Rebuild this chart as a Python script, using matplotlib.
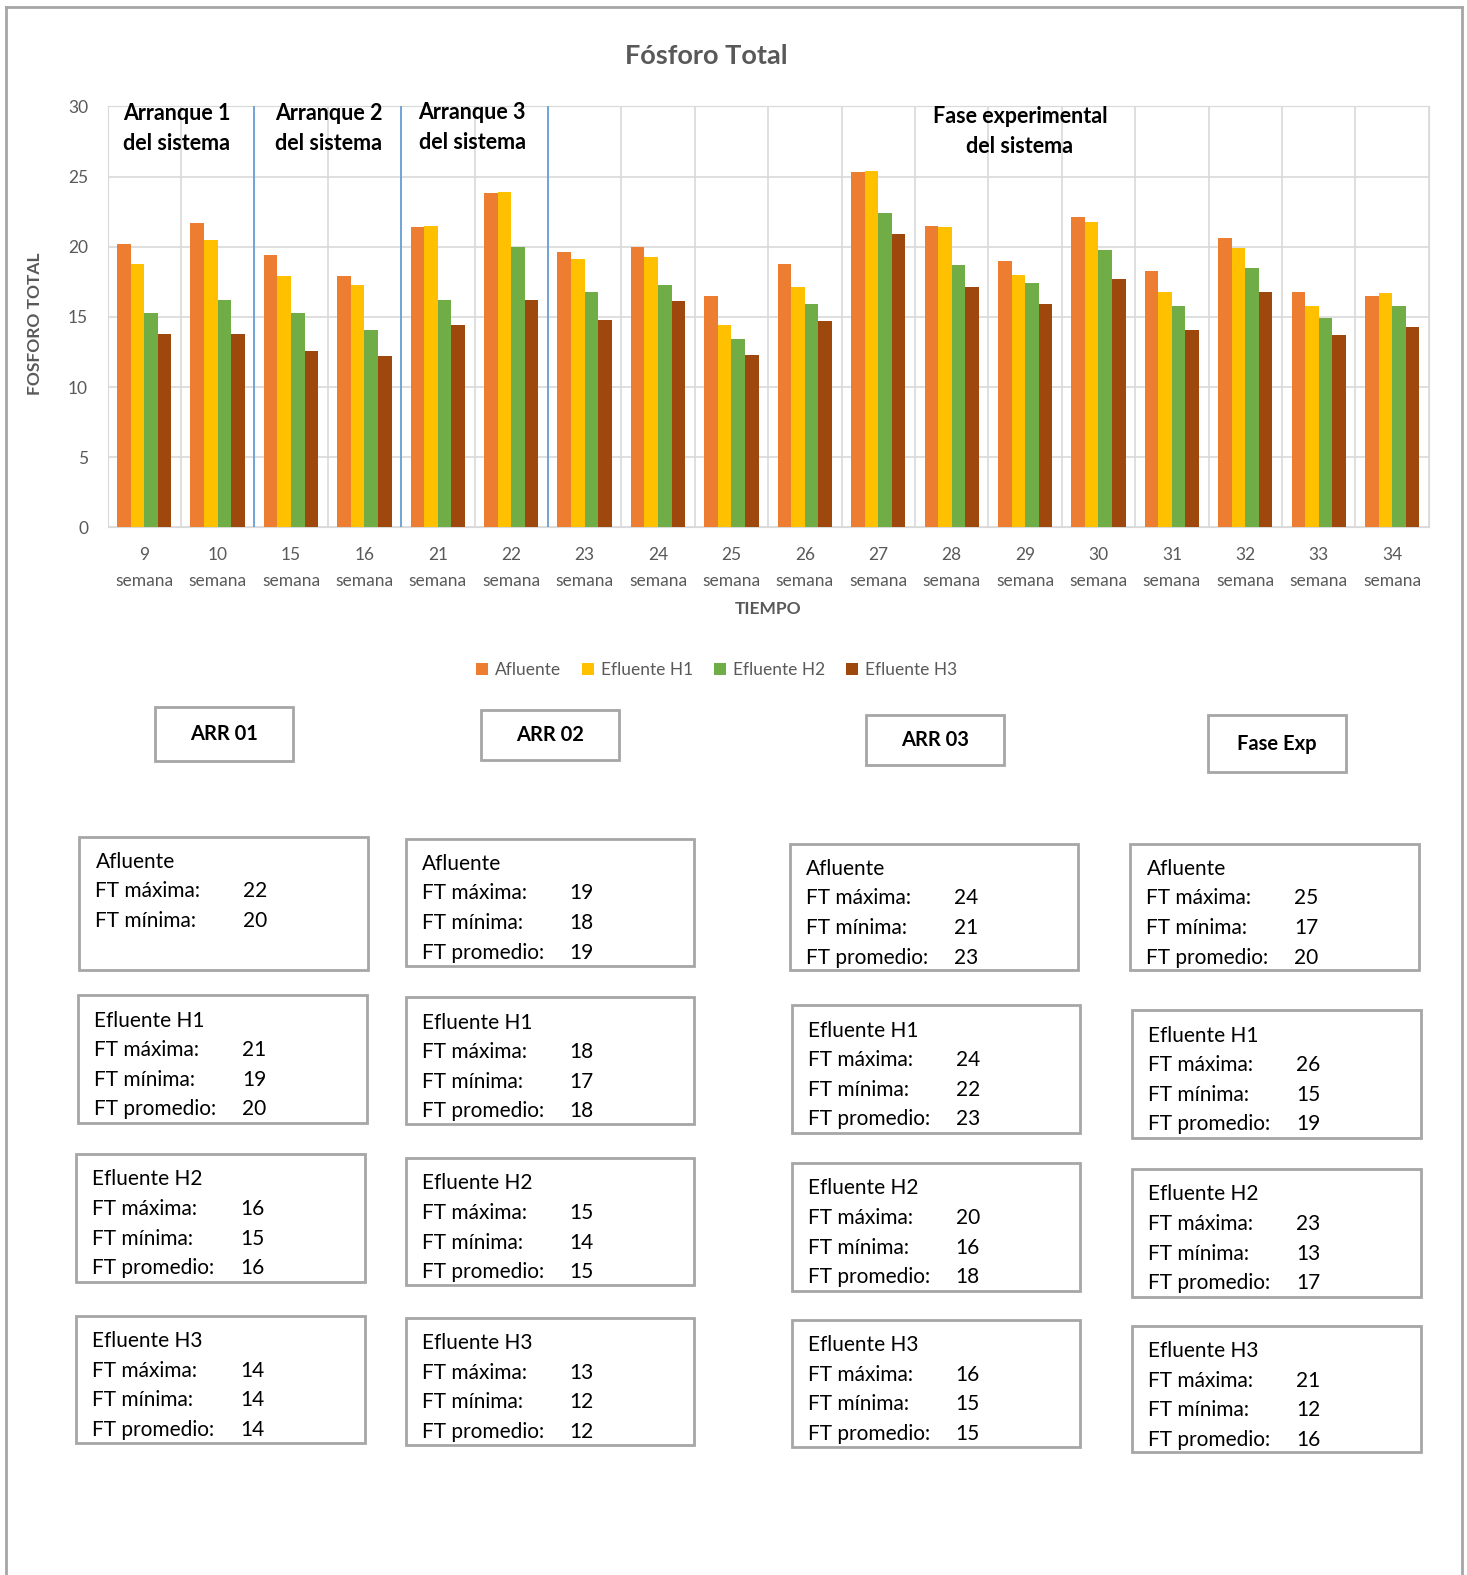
import matplotlib.pyplot as plt
from matplotlib.patches import Rectangle, Patch
from matplotlib.lines import Line2D

plt.rcParams['font.family'] = ['Lato', 'DejaVu Sans']

# --- datos ---
semanas = ['9', '10', '15', '16', '21', '22', '23', '24', '25', '26',
           '27', '28', '29', '30', '31', '32', '33', '34']
afluente = [20.2, 21.7, 19.4, 17.9, 21.4, 23.8, 19.6, 20.0, 16.5, 18.8,
            25.3, 21.5, 19.0, 22.1, 18.3, 20.6, 16.8, 16.5]
efluente_h1 = [18.8, 20.5, 17.9, 17.3, 21.5, 23.9, 19.1, 19.3, 14.4, 17.1,
               25.4, 21.4, 18.0, 21.8, 16.8, 19.9, 15.8, 16.7]
efluente_h2 = [15.3, 16.2, 15.3, 14.1, 16.2, 20.0, 16.8, 17.3, 13.4, 15.9,
               22.4, 18.7, 17.4, 19.8, 15.8, 18.5, 14.9, 15.8]
efluente_h3 = [13.8, 13.8, 12.6, 12.2, 14.4, 16.2, 14.8, 16.1, 12.3, 14.7,
               20.9, 17.1, 15.9, 17.7, 14.1, 16.8, 13.7, 14.3]
series_names = ['Afluente', 'Efluente H1', 'Efluente H2', 'Efluente H3']
colores = ['#ED7D31', '#FFC000', '#70AD47', '#9E480E']

etapas = ['Arranque 1\ndel sistema', 'Arranque 2\ndel sistema',
          'Arranque 3\ndel sistema', 'Fase experimental\ndel sistema']
cortes_etapa = [2, 4, 6]

fases = ['ARR 01', 'ARR 02', 'ARR 03', 'Fase Exp']
ft_maxima = [[22, 21, 16, 14], [19, 18, 15, 13], [24, 24, 20, 16], [25, 26, 23, 21]]
ft_minima = [[20, 19, 15, 14], [18, 17, 14, 12], [21, 22, 16, 15], [17, 15, 13, 12]]
ft_promedio = [[None, 20, 16, 14], [19, 18, 15, 12], [23, 23, 18, 15], [20, 19, 17, 16]]

W, H = 1467, 1575
# layout en pixeles de una maqueta de 1460x1568
SX, SY = 1467 / 1460, 1575 / 1568
fig = plt.figure(figsize=(W / 100, H / 100), dpi=100)


def fx(x):
    return x * SX / W


def fy(y):
    return 1 - y * SY / H


# marco exterior
for xs, ys in [([6, 6], [H, 7]), ([6, 1455], [7, 7]), ([1455, 1455], [7, H])]:
    fig.add_artist(Line2D([fx(v) for v in xs], [fy(v) for v in ys],
                          color='#a6a6a6', lw=2))

# --- grafico de barras ---
ax = fig.add_axes([fx(107), fy(525), fx(1422) - fx(107), fy(106) - fy(525)])
n = len(semanas)
ancho = 0.185
valores = [afluente, efluente_h1, efluente_h2, efluente_h3]
for k, (vals, c) in enumerate(zip(valores, colores)):
    xs = [i + 0.5 + (k - 1.5) * ancho for i in range(n)]
    ax.bar(xs, vals, width=ancho, color=c, zorder=3)

ax.set_xlim(0, n)
ax.set_ylim(0, 30)
ax.set_yticks(range(0, 31, 5))
ax.set_xticks([i + 0.5 for i in range(n)])
ax.set_xticklabels([s + '\nsemana' for s in semanas], linespacing=1.75)
ax.set_xticks(range(n + 1), minor=True)
ax.tick_params(axis='both', which='both', length=0, colors='#595959', labelsize=12.5)
ax.tick_params(axis='y', pad=14)
ax.tick_params(axis='x', pad=14)
ax.grid(axis='y', color='#d9d9d9', lw=1.2, zorder=0)
ax.grid(axis='x', which='minor', color='#d9d9d9', lw=1.2, zorder=0)
for s in ax.spines.values():
    s.set_color('#d9d9d9')
for c in cortes_etapa:
    ax.axvline(c, color='#5B9BD5', lw=1.2, zorder=4)

# etiquetas de etapa dentro del grafico
pos_etapa = [(176, 128), (327, 128), (470, 127), (1015, 131)]
for txt, (x, y) in zip(etapas, pos_etapa):
    fig.text(fx(x), fy(y), txt, ha='center', va='center', fontsize=15.5,
             fontweight='bold', color='black', linespacing=1.55)

fig.text(fx(703), fy(56), 'Fósforo Total', ha='center', va='center',
         fontsize=19.5, fontweight='bold', color='#595959')
fig.text(fx(35), fy(322), 'FOSFORO TOTAL', ha='center', va='center',
         rotation=90, fontsize=12.5, fontweight='bold', color='#595959')
fig.text(fx(764), fy(606), 'TIEMPO', ha='center', va='center',
         fontsize=12.5, fontweight='bold', color='#595959')

handles = [Patch(facecolor=c, label=s) for s, c in zip(series_names, colores)]
fig.legend(handles=handles, loc='center', bbox_to_anchor=(fx(713), fy(667)),
           ncol=4, frameon=False, fontsize=12.5, handlelength=0.7,
           handleheight=0.7, handletextpad=0.4, columnspacing=1.2,
           labelcolor='#595959')

# --- cuadros de resumen ---
borde = '#a6a6a6'
cabeceras = [(154, 704, 138, 54), (479, 707, 137, 50),
             (862, 712, 137, 50), (1202, 712, 138, 57)]
for fase, (x, y, w, h) in zip(fases, cabeceras):
    fig.add_artist(Rectangle((fx(x), fy(y + h)), fx(x + w) - fx(x), fy(y) - fy(y + h),
                             transform=fig.transFigure, fill=False,
                             edgecolor=borde, lw=2))
    fig.text(fx(x + w / 2), fy(y + h / 2), fase, ha='center', va='center',
             fontsize=14.5, fontweight='bold', color='black')

cuadros = [
    [(79, 833, 133), (78, 991, 127), (76, 1149, 127), (76, 1310, 127)],
    [(404, 835, 127), (404, 993, 126), (404, 1153, 126), (404, 1312, 127)],
    [(786, 840, 126), (788, 1001, 127), (788, 1158, 127), (788, 1314, 127)],
    [(1125, 840, 126), (1127, 1006, 127), (1127, 1164, 127), (1127, 1320, 126)],
]
for j in range(len(fases)):
    for k, nombre in enumerate(series_names):
        x, y, h = cuadros[j][k]
        w = 287
        fig.add_artist(Rectangle((fx(x), fy(y + h)), fx(x + w) - fx(x), fy(y) - fy(y + h),
                                 transform=fig.transFigure, fill=False,
                                 edgecolor=borde, lw=2))
        filas = [('FT máxima:', ft_maxima[j][k]),
                 ('FT mínima:', ft_minima[j][k]),
                 ('FT promedio:', ft_promedio[j][k])]
        fig.text(fx(x + 16), fy(y + 25), nombre, ha='left', va='center',
                 fontsize=15, color='black')
        for r, (etq, val) in enumerate(filas):
            if val is None:
                continue
            yy = y + 25 + 29.5 * (r + 1)
            fig.text(fx(x + 16), fy(yy), etq, ha='left', va='center',
                     fontsize=15, color='black')
            fig.text(fx(x + 163), fy(yy), str(val), ha='left', va='center',
                     fontsize=15, color='black')

fig.savefig('out.png', dpi=100)
